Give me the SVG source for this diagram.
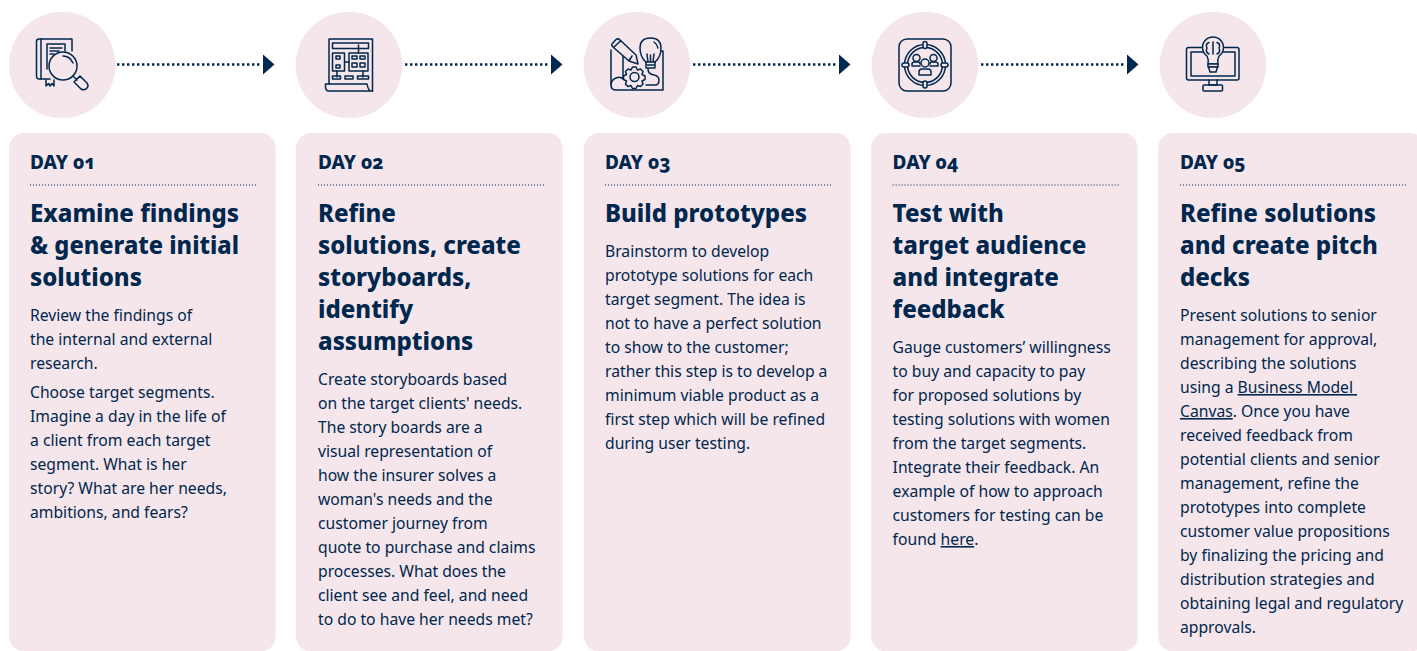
<svg xmlns="http://www.w3.org/2000/svg" width="1417" height="651" viewBox="0 0 1417 651">
<style>
.bg{fill:#f5e6eb}
text{fill:#00274d;font-family:"Noto Sans","Liberation Sans",sans-serif}
.d{font-size:19px;font-weight:800;font-variant-numeric:oldstyle-nums}
.h{font-size:24px;font-weight:800}
.b{font-size:15.7px}
.u{text-decoration:underline}
.rule{stroke:#00274d;stroke-width:1;stroke-dasharray:1 2;fill:none}
.dot{stroke:#00274d;stroke-width:2.4;stroke-dasharray:2.4 2.6;fill:none}
.ar{fill:#00274d}
.i{fill:none;stroke:#00274d;stroke-width:1.5;stroke-linejoin:round;stroke-linecap:round}
.f{fill:#f5e6eb}
</style>
<g id="connectors">
<path class="dot" d="M117 64.500H260"/><path class="ar" d="M263 54.500L274.500 64.500L263 74.500Z"/>
<path class="dot" d="M405 64.500H548"/><path class="ar" d="M551 54.500L562.500 64.500L551 74.500Z"/>
<path class="dot" d="M693 64.500H836"/><path class="ar" d="M839 54.500L850.500 64.500L839 74.500Z"/>
<path class="dot" d="M981 64.500H1124"/><path class="ar" d="M1127 54.500L1138.500 64.500L1127 74.500Z"/>
</g>
<g id="node-1">
<circle class="bg" cx="62.300" cy="65" r="53.300"/>
<g class="i"><path d="M50 79H39Q36.500 79 36.500 76V41.500Q36.500 39 39 39H72V51"/><path d="M41 39V79"/><path d="M47 44H65V51M47 44V69M50 48H62M50 51H59M50 54H54"/><path d="M46 80V86L48.500 83.500L50 86L52 83.500L54 86V80"/><path class="f" d="M73 76L77 80M74 82L80 76L87 83Q89 86 87 88Q85 91 81 89Z"/><circle class="f" cx="63" cy="66" r="14"/><path d="M63 56Q70 56 73 63"/></g>
<rect class="bg" x="9" y="133" width="266.700" height="518.500" rx="15"/>
<text class="d" x="30" y="169">DAY 01</text>
<path class="rule" d="M30 185H256"/>
<text class="h"><tspan x="30" y="222">Examine findings</tspan><tspan x="30" y="254" textLength="209" lengthAdjust="spacingAndGlyphs">&amp; generate initial</tspan><tspan x="30" y="286">solutions</tspan></text>
<text class="b"><tspan x="30" y="321">Review the findings of</tspan><tspan x="30" y="345">the internal and external</tspan><tspan x="30" y="369">research.</tspan><tspan x="30" y="398">Choose target segments.</tspan><tspan x="30" y="422">Imagine a day in the life of</tspan><tspan x="30" y="446">a client from each target</tspan><tspan x="30" y="470">segment. What is her</tspan><tspan x="30" y="494">story? What are her needs,</tspan><tspan x="30" y="518">ambitions, and fears?</tspan></text>
</g>
<g id="node-2">
<circle class="bg" cx="349" cy="65" r="53.300"/>
<g class="i"><path d="M329 84V39H372.500V91"/><path d="M372.500 91H329Q325.500 91 325.500 87V84H367Q367.500 88 370 91"/><rect x="332.500" y="43" width="36" height="5.500"/><path d="M358.500 45V53"/><rect x="332.500" y="53" width="12" height="18"/><rect x="349" y="53" width="19" height="18"/><path d="M345 62H349M337 71V77M363 71V77"/><rect x="336" y="56" width="4" height="3"/><rect x="336" y="65" width="4" height="3"/><rect x="352" y="56" width="5" height="3"/><rect x="360" y="56" width="5" height="3"/><rect x="352" y="63" width="5" height="4"/><rect x="360" y="63" width="5" height="4"/><rect x="332.500" y="76" width="8" height="3"/><rect x="345" y="76" width="8" height="3"/><rect x="357.500" y="76" width="11" height="3"/></g>
<rect class="bg" x="296" y="133" width="266.700" height="518.500" rx="15"/>
<text class="d" x="318" y="169">DAY 02</text>
<path class="rule" d="M318 185H544"/>
<text class="h"><tspan x="318" y="222">Refine</tspan><tspan x="318" y="254">solutions, create</tspan><tspan x="318" y="286">storyboards,</tspan><tspan x="318" y="318">identify</tspan><tspan x="318" y="350">assumptions</tspan></text>
<text class="b"><tspan x="318" y="385">Create storyboards based</tspan><tspan x="318" y="409">on the target clients' needs.</tspan><tspan x="318" y="433">The story boards are a</tspan><tspan x="318" y="457">visual representation of</tspan><tspan x="318" y="481">how the insurer solves a</tspan><tspan x="318" y="505">woman's needs and the</tspan><tspan x="318" y="529">customer journey from</tspan><tspan x="318" y="553">quote to purchase and claims</tspan><tspan x="318" y="577">processes. What does the</tspan><tspan x="318" y="601">client see and feel, and need</tspan><tspan x="318" y="625">to do to have her needs met?</tspan></text>
</g>
<g id="node-3">
<circle class="bg" cx="637" cy="65" r="53.300"/>
<g class="i"><path d="M611 50V85Q611 90 616 90H663V51H659"/><path d="M623 55V79Q620 76 616 78Q611 80 611 85"/><path d="M646 85H655Q659 85 659 80Q659 76 654 75Q648 74 648 69"/><path class="f" d="M612 44L616 39.500Q618 38 620 40L636 55L638 64L629 61L613 47Q611 45 612 44ZM614 47L621 40.500M632 56L629 61"/><path class="f" d="M646 68H655V62Q661 57 661 48Q661 38 650.500 38Q640 38 640 48Q640 57 646 62Z"/><path d="M646 62H655M647 65H654M647 54L648 62M654 54L653 62M650.500 55V62M654 42Q657 44 658 48"/><path class="f" d="M636 67l1.500 3 3-1 2.500 2.500-1 3 3 1.500v3.500l-3 1.500 1 3-2.500 2.500-3-1-1.500 3h-3.500l-1.500-3-3 1-2.500-2.500 1-3-3-1.500v-3.500l3-1.500-1-3 2.500-2.500 3 1 1.500-3z"/><circle cx="634.500" cy="77" r="4.500"/></g>
<rect class="bg" x="584" y="133" width="266.700" height="518.500" rx="15"/>
<text class="d" x="605" y="169">DAY 03</text>
<path class="rule" d="M605 185H831"/>
<text class="h"><tspan x="605" y="222">Build prototypes</tspan></text>
<text class="b"><tspan x="605" y="257">Brainstorm to develop</tspan><tspan x="605" y="281">prototype solutions for each</tspan><tspan x="605" y="305">target segment. The idea is</tspan><tspan x="605" y="329">not to have a perfect solution</tspan><tspan x="605" y="353">to show to the customer;</tspan><tspan x="605" y="377">rather this step is to develop a</tspan><tspan x="605" y="401">minimum viable product as a</tspan><tspan x="605" y="425">first step which will be refined</tspan><tspan x="605" y="449">during user testing.</tspan></text>
</g>
<g id="node-4">
<circle class="bg" cx="925" cy="65" r="53.300"/>
<g class="i"><rect x="899" y="39" width="52" height="52" rx="8"/><circle cx="925" cy="65" r="20.500"/><circle cx="925" cy="65" r="17.500"/><rect class="f" x="923" y="41.500" width="4" height="7" rx="2"/><rect class="f" x="923" y="81" width="4" height="7" rx="2"/><rect class="f" x="902" y="63" width="7" height="4" rx="2"/><rect class="f" x="941" y="63" width="7" height="4" rx="2"/><circle cx="916.500" cy="58" r="3.500"/><path d="M912 66V64Q912 62 915 62H918Q920 62 920 64M920 66H912"/><circle cx="933.500" cy="58" r="3.500"/><path d="M938 66V64Q938 62 935 62H932Q930 62 930 64M930 66H938"/><circle cx="925" cy="63" r="4"/><path d="M919 75V72Q919 69 922 69H928Q931 69 931 72V75Z"/></g>
<rect class="bg" x="871" y="133" width="266.700" height="518.500" rx="15"/>
<text class="d" x="892.600" y="169">DAY 04</text>
<path class="rule" d="M892.600 185H1118.600"/>
<text class="h"><tspan x="892.600" y="222">Test with</tspan><tspan x="892.600" y="254">target audience</tspan><tspan x="892.600" y="286">and integrate</tspan><tspan x="892.600" y="318">feedback</tspan></text>
<text class="b"><tspan x="892.600" y="353">Gauge customers’ willingness</tspan><tspan x="892.600" y="377">to buy and capacity to pay</tspan><tspan x="892.600" y="401">for proposed solutions by</tspan><tspan x="892.600" y="425">testing solutions with women</tspan><tspan x="892.600" y="449">from the target segments.</tspan><tspan x="892.600" y="473">Integrate their feedback. An</tspan><tspan x="892.600" y="497">example of how to approach</tspan><tspan x="892.600" y="521">customers for testing can be</tspan><tspan x="892.600" y="545">found <tspan class="u">here</tspan>.</tspan></text>
</g>
<g id="node-5">
<circle class="bg" cx="1213" cy="65" r="53.300"/>
<g class="i"><rect x="1186.500" y="47.500" width="52.500" height="32.500" rx="2"/><rect x="1191" y="52" width="44" height="24"/><path class="f" d="M1207 56Q1209 60 1208 64H1218Q1217 60 1219 56A10.500 10.500 0 1 0 1207 56Z"/><rect class="f" x="1208" y="64" width="10" height="3"/><path class="f" d="M1208.500 67H1217.500L1216 72H1210Z"/><path d="M1213 42V54M1209 42.500Q1205 44 1207 48Q1205 52 1209 54M1217 42.500Q1221 44 1219 48Q1221 52 1217 54"/><path d="M1209 80V85H1217V80"/><rect x="1203" y="85" width="19.500" height="6" rx="1"/></g>
<rect class="bg" x="1158" y="133" width="266.700" height="518.500" rx="15"/>
<text class="d" x="1180" y="169">DAY 05</text>
<path class="rule" d="M1180 185H1406"/>
<text class="h"><tspan x="1180" y="222">Refine solutions</tspan><tspan x="1180" y="254">and create pitch</tspan><tspan x="1180" y="286">decks</tspan></text>
<text class="b"><tspan x="1180" y="321">Present solutions to senior</tspan><tspan x="1180" y="345">management for approval,</tspan><tspan x="1180" y="369">describing the solutions</tspan><tspan x="1180" y="393">using a <tspan class="u">Business Model </tspan></tspan><tspan x="1180" y="417"><tspan class="u">Canvas</tspan>. Once you have</tspan><tspan x="1180" y="441">received feedback from</tspan><tspan x="1180" y="465">potential clients and senior</tspan><tspan x="1180" y="489">management, refine the</tspan><tspan x="1180" y="513">prototypes into complete</tspan><tspan x="1180" y="537">customer value propositions</tspan><tspan x="1180" y="561">by finalizing the pricing and</tspan><tspan x="1180" y="585">distribution strategies and</tspan><tspan x="1180" y="609">obtaining legal and regulatory</tspan><tspan x="1180" y="633">approvals.</tspan></text>
</g>
</svg>
